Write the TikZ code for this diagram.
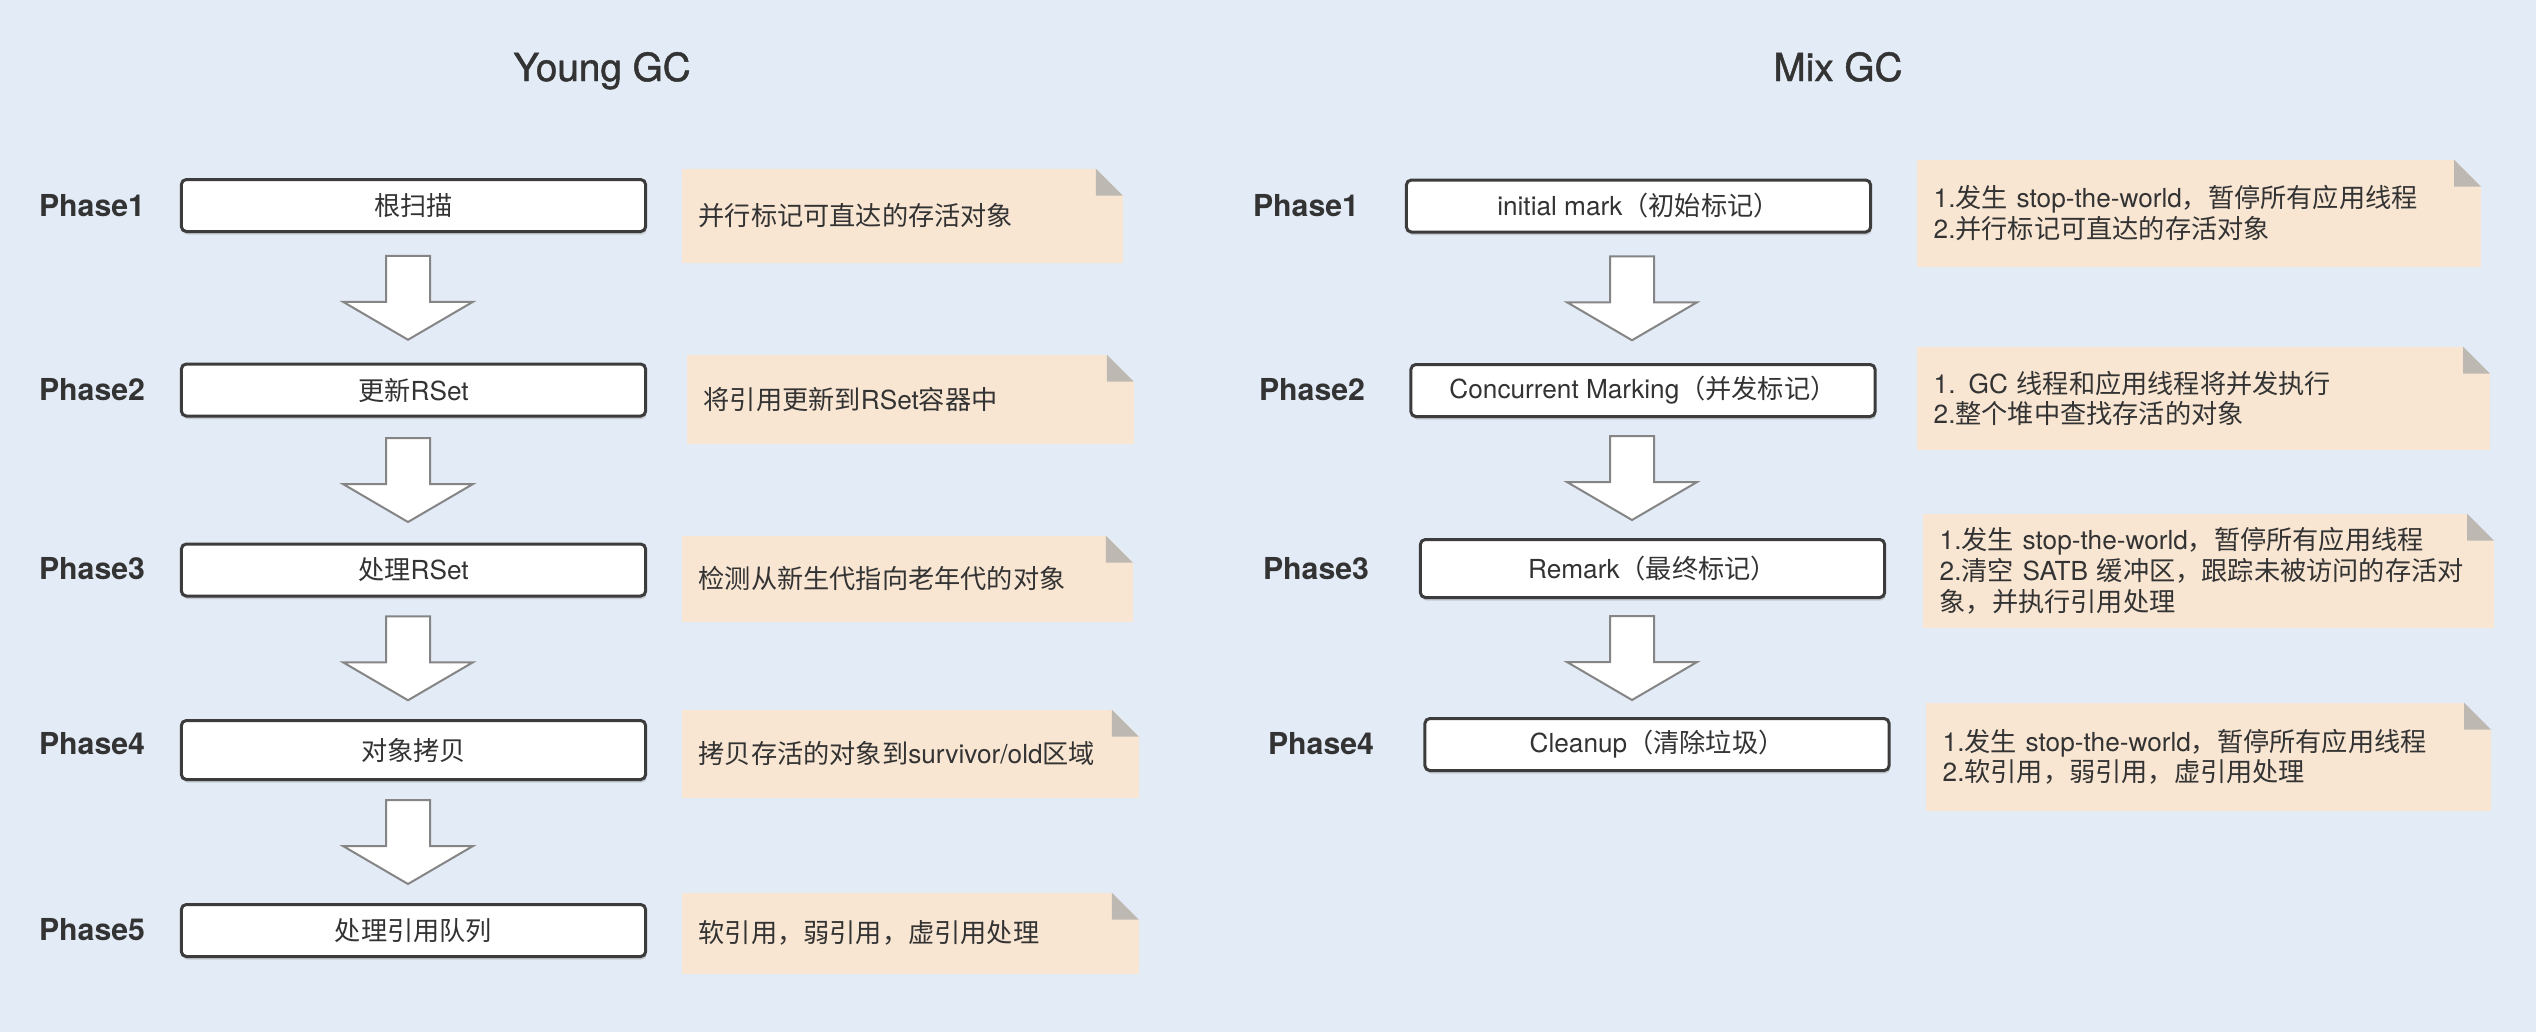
\documentclass[tikz,border=0pt]{standalone}
\usepackage{fontspec}
\setmainfont{TeX Gyre Heros}
\newfontfamily\cjkfont{Noto Sans CJK SC}
\newfontfamily\titlefont[FakeBold=1.2]{TeX Gyre Heros}
% switch to the CJK font for Chinese characters and full-width punctuation
\XeTeXinterchartokenstate=1
\newXeTeXintercharclass\cjkclass
\newcount\cjkcode
\cjkcode="3000
\loop \XeTeXcharclass\cjkcode=\cjkclass \ifnum\cjkcode<"303F \advance\cjkcode by 1 \repeat
\cjkcode="4E00
\loop \XeTeXcharclass\cjkcode=\cjkclass \ifnum\cjkcode<"9FFF \advance\cjkcode by 1 \repeat
\cjkcode="FF00
\loop \XeTeXcharclass\cjkcode=\cjkclass \ifnum\cjkcode<"FFEF \advance\cjkcode by 1 \repeat
\XeTeXinterchartoks 0 \cjkclass = {\begingroup\cjkfont}
\XeTeXinterchartoks 4095 \cjkclass = {\begingroup\cjkfont}
\XeTeXinterchartoks \cjkclass 0 = {\endgroup}
\XeTeXinterchartoks \cjkclass 4095 = {\endgroup}
\usetikzlibrary{calc, shadows}
\definecolor{pagebg}{HTML}{E3EBF6}
\definecolor{notefill}{HTML}{F8E6D3}
\definecolor{foldgray}{HTML}{BEB8B2}
\definecolor{boxline}{HTML}{3C3C3C}
\definecolor{arrowline}{HTML}{858585}
\definecolor{inktext}{HTML}{333333}

\begin{document}
\begin{tikzpicture}[x=0.01cm, y=-0.01cm,
    gctitle/.style={font=\titlefont\fontsize{11pt}{13pt}\selectfont, text=inktext, anchor=base},
    phase/.style={font=\fontsize{8.6pt}{10pt}\selectfont\bfseries, text=inktext},
    stagebox/.style={draw=boxline, line width=0.03cm, rounded corners=0.05cm, fill=white,
                minimum width=4.64cm, minimum height=0.52cm, inner sep=0pt,
                font=\fontsize{7.45pt}{9pt}\selectfont, text=inktext,
                drop shadow={shadow xshift=0.01cm, shadow yshift=-0.03cm, opacity=0.3}},
    notebox/.style={fill=notefill, anchor=north west, inner xsep=0.17cm, inner ysep=0pt,
                align=left, font=\fontsize{7.45pt}{8.7pt}\selectfont, text=inktext,
                path picture={
                  \fill[pagebg] (path picture bounding box.north east) -- ++(-0.27cm,0) -- ++(0.27cm,-0.27cm) -- cycle;
                  \fill[foldgray] (path picture bounding box.north east) ++(-0.27cm,0) -- ++(0,-0.27cm) -- ++(0.27cm,0) -- cycle;}},
    pics/flowarrow/.style={code={
      \filldraw[fill=white, draw=arrowline, line width=0.02cm]
        (-22,-42) -- (-22,4) -- (-65,4) -- (0,42) -- (65,4) -- (22,4) -- (22,-42) -- cycle;}}
  ]
  \fill[pagebg] (0,0) rectangle (2536,1032);

  % titles
  \node[gctitle] (ytitle) at (602,81) {Young GC};
  \node[gctitle] (mtitle) at (1838,81) {Mix GC};

  % Young GC
  \node[phase] (yp1) at (92,206) {Phase1};
  \node[phase] (yp2) at (92,390) {Phase2};
  \node[phase] (yp3) at (92,569) {Phase3};
  \node[phase] (yp4) at (92,744) {Phase4};
  \node[phase] (yp5) at (92,930) {Phase5};

  \node[stagebox] (yg1) at (413.5,205.5) {根扫描};
  \node[stagebox] (yg2) at (413.5,390) {更新RSet};
  \node[stagebox] (yg3) at (413.5,570) {处理RSet};
  \node[stagebox, minimum height=0.59cm] (yg4) at (413.5,750) {对象拷贝};
  \node[stagebox] (yg5) at (413.5,930.5) {处理引用队列};

  \node[notebox, text width=4.07cm, minimum height=0.94cm] (yn1) at (681,168) {并行标记可直达的存活对象};
  \node[notebox, text width=4.13cm, minimum height=0.89cm] (yn2) at (686,354) {将引用更新到RSet容器中};
  \node[notebox, text width=4.17cm, minimum height=0.86cm] (yn3) at (681,535) {检测从新生代指向老年代的对象};
  \node[notebox, text width=4.23cm, minimum height=0.88cm] (yn4) at (681,709) {拷贝存活的对象到survivor/old区域};
  \node[notebox, text width=4.23cm, minimum height=0.81cm] (yn5) at (681,892) {软引用，弱引用，虚引用处理};

  \coordinate (ycol) at (408,0);
  \pic at ($(ycol |- yg1.south)!0.5!(ycol |- yg2.north)$) {flowarrow};
  \pic at ($(ycol |- yg2.south)!0.5!(ycol |- yg3.north)$) {flowarrow};
  \pic at ($(ycol |- yg3.south)!0.5!(ycol |- yg4.north)$) {flowarrow};
  \pic at ($(ycol |- yg4.south)!0.5!(ycol |- yg5.north)$) {flowarrow};

  % Mix GC
  \node[phase] (mp1) at (1306,206) {Phase1};
  \node[phase] (mp2) at (1312,390) {Phase2};
  \node[phase] (mp3) at (1316,569) {Phase3};
  \node[phase] (mp4) at (1321,744) {Phase4};

  \node[stagebox] (mx1) at (1638.5,206) {initial mark（初始标记）};
  \node[stagebox] (mx2) at (1643,390.5) {Concurrent Marking（并发标记）};
  \node[stagebox, minimum height=0.58cm] (mx3) at (1652.5,568.5) {Remark（最终标记）};
  \node[stagebox] (mx4) at (1657,744.5) {Cleanup（清除垃圾）};

  \node[notebox, text width=5.30cm, minimum height=1.07cm] (mn1) at (1916,159)
    {1.发生 stop-the-world，暂停所有应用线程\\2.并行标记可直达的存活对象};
  \node[notebox, text width=5.39cm, minimum height=1.03cm] (mn2) at (1916,346)
    {1. GC 线程和应用线程将并发执行\\2.整个堆中查找存活的对象};
  \node[notebox, text width=5.37cm, minimum height=1.14cm] (mn3) at (1922,513)
    {1.发生 stop-the-world，暂停所有应用线程\\2.清空 SATB 缓冲区，跟踪未被访问的存活对\\象，并执行引用处理};
  \node[notebox, text width=5.31cm, minimum height=1.08cm] (mn4) at (1925,702)
    {1.发生 stop-the-world，暂停所有应用线程\\2.软引用，弱引用，虚引用处理};

  \coordinate (mcol) at (1632,0);
  \pic at ($(mcol |- mx1.south)!0.5!(mcol |- mx2.north)$) {flowarrow};
  \pic at ($(mcol |- mx2.south)!0.5!(mcol |- mx3.north)$) {flowarrow};
  \pic at ($(mcol |- mx3.south)!0.5!(mcol |- mx4.north)$) {flowarrow};
\end{tikzpicture}
\end{document}
